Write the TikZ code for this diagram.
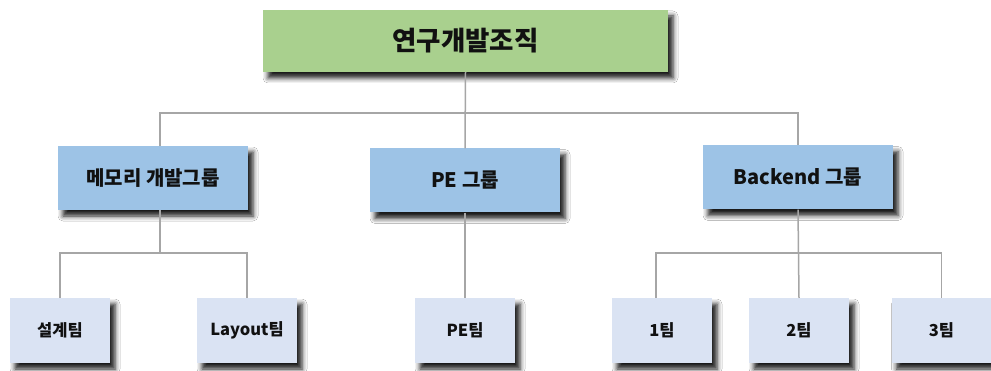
\documentclass[tikz,border=0pt]{standalone}
\usepackage{fontspec}
\setmainfont{Noto Sans CJK KR}
\usetikzlibrary{shadows.blur}
\definecolor{topgreen}{HTML}{A9D08E}
\definecolor{midblue}{HTML}{9DC3E6}
\definecolor{lowblue}{HTML}{DAE3F3}
\definecolor{linegray}{HTML}{A6A6A6}
\definecolor{txt}{HTML}{111111}
\begin{document}
\begin{tikzpicture}[x=1pt,y=-1pt,
  box/.style={draw=none, inner sep=0pt, text=txt,
    blur shadow={shadow xshift=5pt, shadow yshift=-6pt, shadow blur radius=5pt, shadow opacity=90}},
  topbox/.style={box, fill=topgreen, minimum width=405pt, minimum height=62pt,
    font=\bfseries\fontsize{26.5}{30}\selectfont},
  midbox/.style={box, fill=midblue, minimum width=190pt, minimum height=64pt,
    font=\bfseries\fontsize{20}{24}\selectfont},
  lowbox/.style={box, fill=lowblue, minimum width=100pt, minimum height=65pt,
    font=\bfseries\fontsize{16.5}{19}\selectfont},
  conn/.style={draw=linegray, line width=1.5pt}]
\useasboundingbox[fill=white] (0,0) rectangle (991,371);

\node[topbox] (top) at (465.5,41) {연구개발조직};
\node[midbox] (m1) at (153,178) {메모리 개발그룹};
\node[midbox] (m2) at (465,180.5) {PE 그룹};
\node[midbox] (m3) at (798,177.5) {Backend 그룹};

\node[lowbox] (b1) at (60,330.5) {설계팀};
\node[lowbox] (b2) at (247,330.5) {Layout팀};
\node[lowbox] (b3) at (465,330.5) {PE팀};
\node[lowbox] (b4) at (662,330.5) {1팀};
\node[lowbox] (b5) at (799,330.5) {2팀};
\node[lowbox] (b6) at (941.5,330.5) {3팀};

\draw[conn] (top.south) -- (m2.north);
\draw[conn] ([xshift=7pt]m1.north) -- ++(0,-33) -| (m3.north);

\draw[conn] ([xshift=7pt]m1.south) -- ++(0,43) coordinate (jl);
\draw[conn] (b1.north) |- (jl) -| (b2.north);

\draw[conn] (m2.south) -- (b3.north);

\draw[conn] (m3.south) -- (b5.north);
\draw[conn] ([xshift=-6pt]b4.north) -- ++(0,-45) -| (b6.north);
\end{tikzpicture}
\end{document}
